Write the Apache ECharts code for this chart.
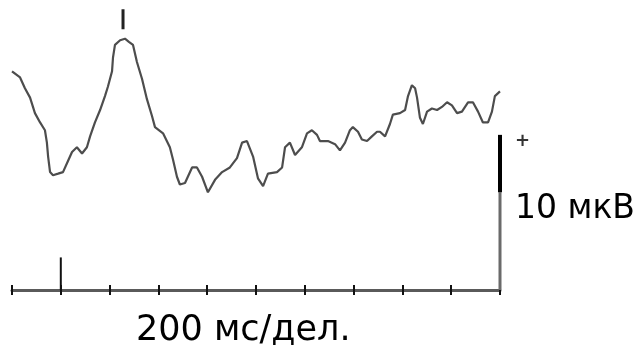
<!DOCTYPE html>
<html lang="ru">

<head>
    <meta charset="UTF-8">
    <title>ВП</title>
    <style>
        html, body { margin: 0; padding: 0; background: #fff; }
    </style>
</head>

<body>
    <div id="main" style="width: 636px; height: 349px"></div>
    <script src="https://cdn.jsdelivr.net/npm/echarts@6/dist/echarts.min.js"></script>
    <script type="text/javascript">
        // время, мс (200 мс/дел.)
        var timeMs = [0, 33, 53, 74, 94, 115, 135, 143, 148, 156, 168, 189, 209, 229, 246, 266, 287, 307, 320, 340,
            361, 381, 393, 410, 414, 422, 443, 463, 479, 496, 512, 533, 553, 574, 586, 619, 647, 660, 676, 688,
            709, 738, 758, 779, 803, 832, 861, 893, 922, 943, 963, 988, 1008, 1029, 1049, 1086, 1107, 1119, 1139, 1160,
            1188, 1209, 1229, 1250, 1262, 1295, 1324, 1344, 1365, 1385, 1397, 1418, 1434, 1455, 1475, 1496, 1508, 1529, 1549, 1561,
            1590, 1611, 1623, 1639, 1652, 1660, 1672, 1684, 1701, 1721, 1742, 1762, 1783, 1803, 1824, 1844, 1869, 1889, 1910, 1930,
            1951, 1967, 1979, 2000];
        // амплитуда, мкВ
        var amplitude = [14.1, 13.7, 13.0, 12.4, 11.4, 10.8, 10.3, 9.5, 8.6, 7.6, 7.4, 7.5, 7.6, 8.3, 8.9, 9.2, 8.8, 9.2, 9.9, 10.8,
            11.6, 12.5, 13.1, 14.1, 15.0, 15.8, 16.1, 16.2, 16.0, 15.8, 14.7, 13.6, 12.3, 11.2, 10.5, 10.1, 9.2, 8.4, 7.3, 6.8,
            6.9, 7.9, 7.9, 7.3, 6.3, 7.1, 7.6, 7.9, 8.5, 9.5, 9.6, 8.6, 7.2, 6.7, 7.5, 7.6, 7.9, 9.2, 9.5, 8.7,
            9.2, 10.1, 10.3, 10.0, 9.6, 9.6, 9.4, 9.0, 9.5, 10.3, 10.5, 10.2, 9.7, 9.6, 9.9, 10.2, 10.2, 9.9, 10.7, 11.3,
            11.4, 11.6, 12.5, 13.2, 13.0, 12.4, 11.1, 10.7, 11.5, 11.7, 11.6, 11.8, 12.1, 11.9, 11.4, 11.5, 12.1, 12.1, 11.5, 10.8,
            10.8, 11.5, 12.5, 12.8];

        var xTicks = [0, 200, 400, 600, 800, 1000, 1200, 1400, 1600, 1800, 2000];
        var stimulusMs = 200;      // отметка стимула
        var peakMs = 455;          // отметка пика
        var scaleUv = 10;          // калибровка 10 мкВ

        var myChart = echarts.init(document.getElementById('main'));

        var trace = timeMs.map(function(t, i) {
            return [t, amplitude[i]];
        });

        var axisBase = {
            type: 'value',
            min: xTicks[0],
            max: xTicks[xTicks.length - 1],
            interval: xTicks[1] - xTicks[0],
            axisLabel: { show: false },
            splitLine: { show: false }
        };

        var option = {
            animation: false,
            grid: { left: 12, right: 136, top: 3, bottom: 59 },
            xAxis: [
                Object.assign({}, axisBase, {
                    axisLine: { show: true, lineStyle: { color: '#5a5a5a', width: 3 } },
                    axisTick: { show: true, length: 5, lineStyle: { color: '#111', width: 2 } }
                }),
                Object.assign({}, axisBase, {
                    position: 'bottom',
                    axisLine: { show: false },
                    axisTick: { show: true, inside: true, length: 5, lineStyle: { color: '#111', width: 2 } }
                })
            ],
            yAxis: {
                type: 'value',
                min: 0,
                max: 18.5,
                show: false
            },
            series: [{
                type: 'line',
                data: trace,
                symbol: 'none',
                lineStyle: { color: '#4d4d4d', width: 2.2 }
            }, {
                // стимул
                type: 'line',
                data: [[stimulusMs, 0], [stimulusMs, 2.1]],
                symbol: 'none',
                lineStyle: { color: '#111', width: 2 }
            }, {
                // пик
                type: 'line',
                data: [[peakMs, 16.8], [peakMs, 18.1]],
                symbol: 'none',
                lineStyle: { color: '#222', width: 3 }
            }, {
                // калибровка
                type: 'line',
                data: [[2000, 0], [2000, 6.3]],
                symbol: 'none',
                lineStyle: { color: '#6a6a6a', width: 3 }
            }, {
                type: 'line',
                data: [[2000, 6.3], [2000, scaleUv]],
                symbol: 'none',
                lineStyle: { color: '#000', width: 4 }
            }],
            graphic: [{
                type: 'text',
                left: 515,
                top: 132,
                style: { text: '+', font: 'bold 18px "DejaVu Sans"', fill: '#333' }
            }, {
                type: 'text',
                left: 515,
                top: 193,
                style: { text: '10 мкВ', font: '33px "DejaVu Sans"', fill: '#000' }
            }, {
                type: 'text',
                left: 136,
                top: 313,
                style: { text: '200 мс/дел.', font: '35px "DejaVu Sans"', fill: '#000' }
            }]
        };
        myChart.setOption(option);
    </script>

</body>

</html>
